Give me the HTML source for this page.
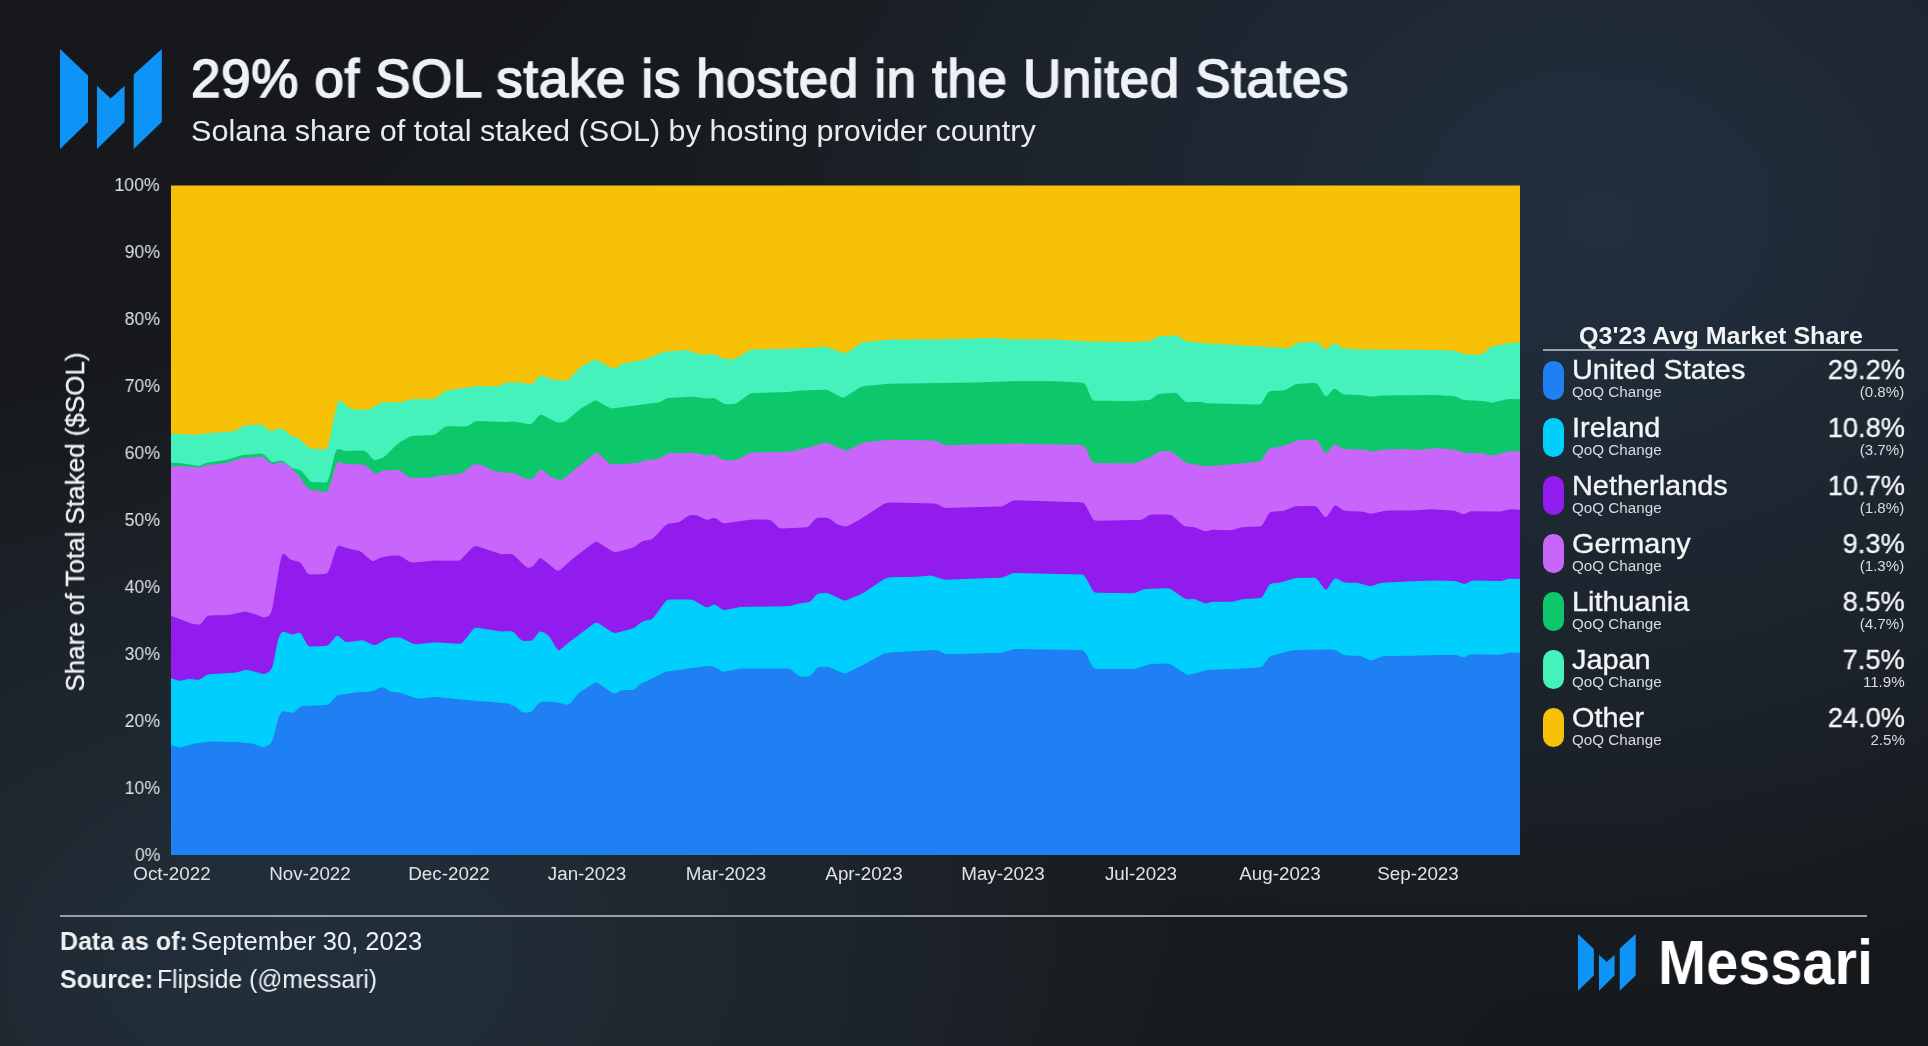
<!DOCTYPE html>
<html><head><meta charset="utf-8"><title>SOL stake by country</title>
<style>
html,body{margin:0;padding:0;}
body{width:1928px;height:1046px;overflow:hidden;position:relative;font-family:"Liberation Sans",sans-serif;
background:#1d232a;}
.bg{position:absolute;left:0;top:0;width:1928px;height:1046px;
background:radial-gradient(ellipse 950px 780px at 1600px 220px, rgba(33,47,62,1) 0%, rgba(33,47,62,0.55) 45%, rgba(33,47,62,0) 100%),
radial-gradient(ellipse 900px 600px at 300px 960px, rgba(34,48,60,1) 0%, rgba(34,48,60,0.55) 45%, rgba(34,48,60,0) 100%),
linear-gradient(136deg,#15171a 0%,#1a1d21 50%,#15181b 100%);}
.t{position:absolute;white-space:nowrap;line-height:1;will-change:transform;}
</style></head><body>
<div class="bg"></div>
<svg style="position:absolute;left:0;top:0" width="1928" height="1046" viewBox="0 0 1928 1046">
<rect x="171.0" y="185.5" width="1349.0" height="669.5" fill="#F6C107"/>
<path fill="#45F2BC" d="M171.0 855.0 L171.0 433.8 L195.0 434.7 L198.0 434.6 L205.0 433.4 L233.0 431.2 L235.0 430.9 L237.0 430.1 L242.0 426.6 L244.0 425.6 L258.0 424.5 L261.0 424.5 L263.0 425.2 L269.0 430.0 L271.0 430.9 L273.0 430.7 L279.0 428.4 L281.0 428.1 L282.0 428.4 L284.0 429.8 L289.0 434.3 L291.0 435.8 L298.0 438.2 L300.0 439.4 L307.0 446.1 L309.0 447.7 L311.0 448.5 L324.0 449.4 L326.0 449.2 L327.0 448.3 L328.0 446.2 L329.0 442.6 L330.0 437.8 L332.0 427.1 L334.0 417.3 L336.0 408.3 L337.0 404.6 L338.0 402.0 L339.0 400.8 L340.0 400.6 L342.0 401.8 L349.0 407.2 L351.0 408.5 L353.0 409.2 L365.0 409.8 L367.0 409.7 L369.0 409.2 L381.0 402.9 L383.0 402.1 L386.0 401.9 L398.0 402.4 L401.0 402.2 L411.0 399.6 L414.0 399.1 L432.0 399.1 L434.0 398.8 L436.0 397.9 L444.0 392.0 L446.0 390.8 L449.0 390.1 L468.0 387.5 L475.0 386.2 L479.0 386.0 L494.0 386.5 L497.0 386.3 L501.0 384.9 L505.0 383.2 L507.0 382.6 L519.0 382.6 L522.0 382.8 L529.0 384.5 L531.0 384.5 L532.0 384.1 L534.0 382.2 L538.0 377.4 L539.0 376.5 L540.0 375.8 L541.0 375.6 L543.0 376.0 L551.0 379.1 L554.0 379.8 L565.0 380.6 L567.0 380.4 L569.0 379.3 L578.0 369.7 L580.0 367.8 L583.0 365.7 L592.0 360.8 L594.0 359.9 L596.0 359.7 L598.0 360.4 L610.0 367.3 L612.0 368.2 L614.0 368.4 L616.0 367.6 L621.0 364.4 L623.0 363.6 L643.0 359.8 L647.0 358.6 L663.0 352.3 L666.0 351.4 L685.0 350.3 L688.0 350.4 L699.0 354.0 L702.0 354.6 L712.0 354.3 L714.0 354.3 L716.0 354.9 L723.0 358.2 L725.0 359.0 L728.0 359.2 L734.0 358.9 L736.0 358.4 L739.0 356.9 L748.0 351.1 L750.0 350.1 L752.0 349.5 L791.0 348.7 L824.0 346.9 L827.0 347.0 L843.0 352.7 L845.0 353.1 L847.0 352.7 L859.0 344.3 L861.0 343.1 L863.0 342.3 L888.0 339.8 L947.0 339.3 L993.0 338.0 L997.0 338.1 L1007.0 339.2 L1054.0 339.6 L1090.0 341.4 L1133.0 341.9 L1147.0 341.3 L1150.0 340.9 L1152.0 340.2 L1157.0 337.0 L1159.0 336.3 L1174.0 335.5 L1177.0 335.6 L1179.0 336.4 L1184.0 340.3 L1186.0 341.3 L1204.0 343.3 L1285.0 347.9 L1288.0 348.0 L1290.0 347.6 L1292.0 346.5 L1296.0 343.5 L1298.0 342.7 L1313.0 342.0 L1316.0 342.2 L1318.0 343.1 L1323.0 347.8 L1325.0 349.3 L1326.0 349.5 L1327.0 349.1 L1329.0 347.5 L1332.0 344.5 L1333.0 343.7 L1334.0 343.2 L1335.0 343.2 L1337.0 344.3 L1340.0 346.7 L1342.0 347.9 L1345.0 348.4 L1366.0 349.6 L1423.0 349.8 L1452.0 350.6 L1455.0 350.8 L1458.0 351.8 L1462.0 353.6 L1464.0 354.2 L1478.0 354.7 L1481.0 354.6 L1483.0 353.8 L1486.0 351.2 L1489.0 348.3 L1491.0 347.0 L1494.0 346.1 L1510.0 343.1 L1514.0 342.7 L1520.0 342.7 L1520.0 855.0 Z"/><path fill="#0CC86B" d="M171.0 855.0 L171.0 462.8 L182.0 463.2 L196.0 465.6 L198.0 465.7 L200.0 465.4 L205.0 463.3 L208.0 462.5 L225.0 460.0 L230.0 458.8 L241.0 455.5 L244.0 454.8 L260.0 453.6 L262.0 453.7 L264.0 454.5 L266.0 456.3 L270.0 460.5 L272.0 461.9 L274.0 462.1 L280.0 460.4 L282.0 460.4 L284.0 461.5 L290.0 466.6 L292.0 467.9 L294.0 468.6 L298.0 469.3 L300.0 469.9 L302.0 471.5 L308.0 478.8 L310.0 480.9 L312.0 481.9 L323.0 482.5 L325.0 482.5 L326.0 482.3 L327.0 481.7 L328.0 480.2 L329.0 477.6 L330.0 474.1 L334.0 457.6 L335.0 453.9 L336.0 451.2 L337.0 449.6 L338.0 449.0 L340.0 449.3 L344.0 450.7 L348.0 450.9 L362.0 450.4 L364.0 450.6 L366.0 451.5 L368.0 453.5 L372.0 458.2 L373.0 459.2 L374.0 459.9 L375.0 460.1 L377.0 459.8 L382.0 457.9 L384.0 456.9 L387.0 454.3 L394.0 447.3 L398.0 443.8 L401.0 441.6 L409.0 437.0 L411.0 436.2 L414.0 435.7 L431.0 435.2 L434.0 434.8 L436.0 433.9 L444.0 427.6 L446.0 426.6 L448.0 426.2 L465.0 426.4 L467.0 426.3 L469.0 425.5 L473.0 422.6 L475.0 421.5 L477.0 421.1 L506.0 421.9 L513.0 421.5 L517.0 421.9 L528.0 424.0 L530.0 424.2 L531.0 424.0 L532.0 423.5 L534.0 421.5 L538.0 416.4 L539.0 415.4 L540.0 414.8 L541.0 414.6 L543.0 415.2 L554.0 421.1 L556.0 422.0 L558.0 422.4 L563.0 422.1 L565.0 421.5 L567.0 420.2 L578.0 410.8 L581.0 408.5 L592.0 401.9 L594.0 400.9 L596.0 400.6 L598.0 401.3 L608.0 407.1 L610.0 408.1 L612.0 408.5 L654.0 403.1 L658.0 402.5 L660.0 401.9 L666.0 398.7 L668.0 397.9 L690.0 396.8 L694.0 396.7 L705.0 398.5 L708.0 398.6 L713.0 398.0 L715.0 398.3 L718.0 400.0 L722.0 402.8 L724.0 403.8 L726.0 404.2 L733.0 404.0 L735.0 403.8 L737.0 403.0 L748.0 394.9 L750.0 393.7 L752.0 393.0 L789.0 391.9 L792.0 391.6 L796.0 390.7 L823.0 389.7 L826.0 389.8 L828.0 390.3 L840.0 396.6 L842.0 397.4 L844.0 397.4 L847.0 395.8 L859.0 388.0 L861.0 386.9 L863.0 386.2 L888.0 383.7 L975.0 382.4 L1021.0 381.0 L1057.0 381.2 L1081.0 382.5 L1083.0 382.7 L1084.0 383.2 L1085.0 384.2 L1086.0 385.7 L1087.0 387.8 L1090.0 395.2 L1091.0 397.4 L1092.0 399.1 L1093.0 400.2 L1094.0 400.7 L1131.0 401.0 L1146.0 400.2 L1149.0 399.9 L1151.0 399.3 L1154.0 397.2 L1157.0 394.8 L1159.0 393.9 L1173.0 392.7 L1175.0 392.7 L1177.0 393.5 L1179.0 395.3 L1183.0 399.8 L1185.0 401.6 L1187.0 402.3 L1198.0 401.8 L1201.0 402.1 L1206.0 403.3 L1256.0 404.5 L1259.0 404.4 L1260.0 404.2 L1261.0 403.6 L1262.0 402.5 L1264.0 399.3 L1266.0 395.6 L1267.0 394.0 L1268.0 392.6 L1269.0 391.7 L1271.0 391.0 L1283.0 390.4 L1285.0 390.1 L1287.0 389.3 L1294.0 384.9 L1296.0 384.1 L1312.0 383.0 L1315.0 382.9 L1316.0 383.1 L1317.0 383.7 L1318.0 384.7 L1320.0 387.8 L1323.0 393.0 L1324.0 394.6 L1325.0 395.7 L1326.0 396.2 L1327.0 396.0 L1328.0 395.2 L1332.0 390.5 L1333.0 389.5 L1334.0 388.9 L1335.0 388.7 L1336.0 389.0 L1341.0 392.9 L1343.0 394.1 L1345.0 394.6 L1362.0 395.2 L1365.0 395.6 L1369.0 396.5 L1372.0 396.6 L1383.0 395.4 L1434.0 394.9 L1452.0 396.0 L1455.0 396.4 L1458.0 397.5 L1462.0 399.4 L1464.0 400.1 L1482.0 400.9 L1486.0 401.5 L1490.0 402.5 L1492.0 402.7 L1506.0 399.4 L1509.0 399.0 L1520.0 399.3 L1520.0 855.0 Z"/><path fill="#C866FB" d="M171.0 855.0 L171.0 465.9 L188.0 466.5 L197.0 467.5 L199.0 467.4 L206.0 465.5 L225.0 463.0 L229.0 462.2 L241.0 458.6 L244.0 457.9 L260.0 456.8 L262.0 456.9 L264.0 457.6 L267.0 460.0 L270.0 462.7 L272.0 463.9 L274.0 464.0 L280.0 462.2 L282.0 462.1 L284.0 463.0 L290.0 467.1 L292.0 468.7 L297.0 474.1 L300.0 477.6 L303.0 481.8 L306.0 486.1 L308.0 488.5 L310.0 489.6 L324.0 492.0 L326.0 492.1 L327.0 491.7 L328.0 490.5 L329.0 488.3 L330.0 485.4 L334.0 471.2 L335.0 467.9 L336.0 465.1 L337.0 463.2 L338.0 462.2 L339.0 462.1 L344.0 463.7 L349.0 464.2 L362.0 464.6 L364.0 464.8 L366.0 465.7 L369.0 468.3 L373.0 472.1 L375.0 473.5 L376.0 473.6 L378.0 473.1 L382.0 471.0 L384.0 470.4 L397.0 469.9 L399.0 470.0 L401.0 470.9 L408.0 476.5 L410.0 477.6 L412.0 478.0 L430.0 477.4 L434.0 476.9 L440.0 475.5 L458.0 474.2 L460.0 473.9 L462.0 473.1 L472.0 465.8 L474.0 464.5 L476.0 464.1 L481.0 465.1 L484.0 466.1 L494.0 471.0 L497.0 471.9 L513.0 473.2 L515.0 473.6 L519.0 475.5 L523.0 477.7 L525.0 478.6 L529.0 479.1 L531.0 479.2 L532.0 479.0 L533.0 478.5 L534.0 477.6 L536.0 474.8 L538.0 471.8 L539.0 470.6 L540.0 469.9 L541.0 469.8 L543.0 470.8 L550.0 476.1 L552.0 477.5 L554.0 478.3 L559.0 479.5 L561.0 479.7 L563.0 479.2 L566.0 476.9 L577.0 467.5 L593.0 454.9 L595.0 453.4 L596.0 453.0 L597.0 452.9 L598.0 453.2 L600.0 454.7 L608.0 462.2 L610.0 463.8 L612.0 464.6 L623.0 464.1 L636.0 463.1 L639.0 462.6 L645.0 460.6 L657.0 458.9 L659.0 458.4 L661.0 457.5 L666.0 454.4 L668.0 453.5 L671.0 453.1 L693.0 453.1 L696.0 453.3 L705.0 455.3 L708.0 455.5 L713.0 454.9 L715.0 455.1 L718.0 456.7 L722.0 459.2 L724.0 460.1 L727.0 460.3 L735.0 459.9 L737.0 459.6 L740.0 458.3 L748.0 454.0 L750.0 453.1 L752.0 452.6 L788.0 451.8 L791.0 451.6 L811.0 446.7 L824.0 443.1 L826.0 442.7 L828.0 442.9 L843.0 449.8 L845.0 450.4 L847.0 450.3 L862.0 443.4 L865.0 442.3 L887.0 440.0 L892.0 439.7 L932.0 440.4 L935.0 440.6 L937.0 441.3 L943.0 444.5 L945.0 445.2 L1017.0 443.4 L1080.0 445.1 L1083.0 445.3 L1084.0 445.7 L1085.0 446.7 L1086.0 448.2 L1087.0 450.3 L1090.0 457.6 L1091.0 459.8 L1092.0 461.5 L1093.0 462.6 L1094.0 463.1 L1130.0 463.4 L1134.0 463.3 L1137.0 462.6 L1149.0 457.7 L1152.0 456.1 L1157.0 452.9 L1159.0 451.8 L1161.0 451.2 L1168.0 451.0 L1170.0 451.2 L1172.0 452.0 L1183.0 460.8 L1185.0 462.2 L1187.0 463.0 L1203.0 465.9 L1206.0 466.2 L1234.0 464.2 L1257.0 461.8 L1259.0 461.4 L1260.0 461.1 L1261.0 460.4 L1262.0 459.4 L1264.0 456.3 L1267.0 451.3 L1268.0 450.1 L1269.0 449.1 L1271.0 448.2 L1281.0 446.5 L1285.0 445.3 L1298.0 440.5 L1301.0 439.8 L1313.0 439.7 L1315.0 439.8 L1316.0 440.1 L1317.0 440.7 L1318.0 441.7 L1320.0 444.7 L1323.0 449.8 L1324.0 451.3 L1325.0 452.4 L1326.0 452.9 L1327.0 452.6 L1328.0 451.7 L1332.0 446.6 L1333.0 445.5 L1334.0 444.8 L1335.0 444.5 L1336.0 444.7 L1342.0 448.3 L1344.0 449.0 L1365.0 449.7 L1368.0 450.2 L1372.0 451.4 L1374.0 451.5 L1382.0 449.8 L1386.0 449.4 L1408.0 449.1 L1413.0 449.5 L1418.0 450.0 L1435.0 448.3 L1439.0 448.3 L1453.0 449.6 L1456.0 450.1 L1462.0 452.3 L1465.0 453.0 L1480.0 453.1 L1483.0 453.4 L1490.0 455.2 L1492.0 455.4 L1497.0 454.4 L1507.0 451.7 L1510.0 451.2 L1520.0 451.5 L1520.0 855.0 Z"/><path fill="#921BEE" d="M171.0 855.0 L171.0 615.8 L190.0 623.1 L193.0 624.0 L197.0 624.6 L199.0 624.5 L200.0 624.2 L201.0 623.5 L203.0 621.2 L205.0 618.5 L207.0 616.4 L209.0 615.6 L227.0 615.1 L231.0 614.6 L242.0 612.0 L245.0 611.6 L251.0 612.9 L256.0 614.6 L262.0 617.0 L264.0 617.3 L266.0 617.0 L268.0 616.2 L269.0 615.7 L270.0 614.6 L271.0 612.6 L272.0 609.2 L273.0 604.4 L274.0 598.6 L277.0 579.8 L278.0 573.9 L279.0 568.3 L280.0 563.1 L281.0 558.8 L282.0 555.6 L283.0 554.0 L284.0 553.8 L285.0 554.5 L288.0 557.6 L290.0 559.3 L292.0 560.1 L298.0 561.5 L300.0 562.4 L301.0 563.4 L303.0 566.3 L306.0 571.2 L307.0 572.7 L308.0 573.7 L309.0 574.3 L311.0 574.6 L324.0 573.9 L326.0 573.7 L327.0 573.2 L328.0 572.2 L329.0 570.4 L330.0 567.8 L332.0 561.5 L334.0 554.9 L335.0 551.7 L336.0 549.0 L337.0 547.0 L338.0 545.9 L339.0 545.6 L350.0 548.9 L358.0 550.6 L360.0 551.2 L362.0 552.4 L370.0 559.5 L372.0 560.8 L373.0 561.0 L375.0 560.4 L379.0 558.3 L382.0 557.3 L392.0 555.6 L397.0 555.4 L399.0 555.6 L401.0 556.2 L409.0 561.4 L411.0 562.3 L413.0 562.5 L435.0 560.6 L457.0 560.8 L459.0 560.6 L461.0 559.6 L472.0 548.1 L474.0 546.5 L475.0 546.2 L477.0 546.3 L499.0 553.6 L502.0 554.3 L510.0 553.9 L512.0 554.1 L514.0 555.2 L524.0 565.0 L526.0 566.8 L528.0 567.7 L530.0 567.6 L532.0 566.8 L534.0 565.0 L538.0 559.8 L539.0 558.8 L540.0 558.3 L541.0 558.3 L543.0 559.5 L555.0 569.2 L557.0 570.5 L558.0 570.7 L559.0 570.5 L561.0 569.2 L573.0 558.6 L592.0 544.1 L594.0 542.6 L596.0 541.8 L598.0 542.2 L611.0 550.5 L613.0 551.6 L615.0 552.2 L618.0 551.7 L632.0 547.9 L634.0 547.1 L637.0 545.1 L640.0 542.7 L642.0 541.5 L645.0 540.5 L650.0 539.7 L652.0 539.0 L654.0 537.5 L664.0 526.8 L666.0 524.9 L668.0 523.8 L677.0 522.5 L679.0 522.1 L681.0 521.0 L687.0 516.4 L689.0 515.4 L692.0 515.1 L696.0 515.3 L698.0 515.7 L705.0 519.3 L707.0 519.8 L709.0 519.5 L713.0 518.1 L715.0 517.9 L717.0 518.9 L721.0 522.0 L723.0 523.1 L725.0 523.3 L748.0 519.9 L753.0 519.5 L767.0 519.5 L769.0 519.7 L771.0 520.5 L774.0 523.1 L777.0 526.1 L779.0 527.7 L781.0 528.4 L804.0 527.5 L807.0 527.2 L809.0 526.1 L811.0 524.0 L814.0 520.2 L816.0 518.4 L818.0 517.8 L826.0 517.7 L828.0 518.0 L830.0 519.0 L836.0 523.6 L838.0 524.8 L843.0 526.1 L846.0 526.4 L848.0 525.9 L861.0 518.8 L882.0 505.1 L885.0 503.4 L888.0 502.7 L892.0 502.5 L934.0 503.5 L937.0 503.9 L940.0 505.4 L943.0 507.2 L945.0 507.9 L997.0 506.6 L1001.0 506.4 L1003.0 505.9 L1012.0 501.0 L1014.0 500.3 L1079.0 502.2 L1082.0 502.4 L1083.0 502.7 L1084.0 503.3 L1085.0 504.4 L1086.0 505.9 L1091.0 515.7 L1092.0 517.5 L1093.0 519.0 L1094.0 520.0 L1095.0 520.5 L1098.0 520.8 L1135.0 520.0 L1140.0 520.0 L1142.0 519.6 L1144.0 518.6 L1148.0 515.8 L1150.0 514.8 L1153.0 514.5 L1168.0 514.5 L1170.0 514.7 L1172.0 515.5 L1175.0 517.9 L1182.0 524.3 L1184.0 525.7 L1186.0 526.4 L1193.0 527.1 L1196.0 527.7 L1204.0 530.9 L1206.0 531.3 L1208.0 530.9 L1211.0 529.9 L1214.0 529.7 L1229.0 530.2 L1232.0 530.0 L1241.0 527.6 L1245.0 527.1 L1259.0 526.4 L1261.0 525.9 L1262.0 525.2 L1263.0 524.1 L1265.0 520.6 L1267.0 516.7 L1268.0 515.0 L1269.0 513.5 L1270.0 512.5 L1272.0 511.7 L1282.0 511.0 L1285.0 510.4 L1293.0 506.9 L1295.0 506.3 L1312.0 506.0 L1315.0 506.2 L1316.0 506.5 L1317.0 507.2 L1319.0 509.4 L1323.0 515.0 L1324.0 516.2 L1325.0 517.0 L1326.0 517.1 L1327.0 516.5 L1328.0 515.3 L1332.0 508.9 L1333.0 507.4 L1334.0 506.3 L1335.0 505.6 L1336.0 505.6 L1338.0 506.6 L1342.0 509.4 L1344.0 510.5 L1347.0 511.0 L1360.0 511.4 L1363.0 511.7 L1369.0 513.3 L1371.0 513.7 L1374.0 513.3 L1385.0 510.8 L1389.0 510.4 L1411.0 510.4 L1432.0 509.3 L1452.0 510.6 L1455.0 511.1 L1459.0 512.6 L1462.0 513.9 L1464.0 514.1 L1466.0 513.4 L1469.0 511.8 L1471.0 511.2 L1498.0 511.6 L1501.0 511.5 L1509.0 509.6 L1512.0 509.3 L1520.0 509.7 L1520.0 855.0 Z"/><path fill="#00CFFE" d="M171.0 855.0 L171.0 678.2 L178.0 680.4 L180.0 680.8 L183.0 680.3 L187.0 679.2 L190.0 679.0 L197.0 679.8 L199.0 679.7 L201.0 678.8 L205.0 675.9 L207.0 674.8 L210.0 674.2 L234.0 672.7 L237.0 672.2 L245.0 670.0 L247.0 669.8 L261.0 673.4 L264.0 673.9 L266.0 673.5 L269.0 671.7 L270.0 670.8 L271.0 669.6 L272.0 667.5 L273.0 664.3 L274.0 659.9 L276.0 649.5 L277.0 644.5 L278.0 640.4 L279.0 637.2 L280.0 634.9 L281.0 633.3 L282.0 632.2 L283.0 631.7 L285.0 632.0 L290.0 634.1 L292.0 634.5 L294.0 634.2 L298.0 632.8 L299.0 632.7 L300.0 633.0 L301.0 633.8 L302.0 635.2 L306.0 642.7 L307.0 644.3 L308.0 645.5 L309.0 646.3 L311.0 646.6 L325.0 646.0 L327.0 645.6 L329.0 644.5 L331.0 642.3 L335.0 637.2 L336.0 636.3 L337.0 635.8 L338.0 635.9 L340.0 637.3 L344.0 640.8 L346.0 641.9 L348.0 642.1 L360.0 640.4 L362.0 640.3 L364.0 640.7 L372.0 644.4 L374.0 645.1 L376.0 644.9 L387.0 638.8 L389.0 638.0 L396.0 637.4 L399.0 637.4 L401.0 637.8 L412.0 643.2 L414.0 644.0 L416.0 644.3 L434.0 642.5 L438.0 642.4 L458.0 643.8 L460.0 643.8 L462.0 643.1 L464.0 641.1 L472.0 630.6 L474.0 628.5 L475.0 627.9 L477.0 627.7 L499.0 631.2 L502.0 631.6 L510.0 631.1 L512.0 631.3 L514.0 632.6 L520.0 639.1 L522.0 640.6 L524.0 641.1 L530.0 640.8 L532.0 640.3 L533.0 639.6 L535.0 637.3 L538.0 633.2 L539.0 632.2 L540.0 631.5 L541.0 631.4 L543.0 632.1 L547.0 634.4 L549.0 636.2 L551.0 639.1 L555.0 646.1 L557.0 649.1 L558.0 650.0 L559.0 650.2 L560.0 649.8 L571.0 640.7 L592.0 624.9 L594.0 623.5 L596.0 622.7 L598.0 623.1 L611.0 631.4 L613.0 632.5 L615.0 633.1 L618.0 632.6 L631.0 629.0 L634.0 627.9 L636.0 626.6 L640.0 623.3 L642.0 621.9 L644.0 620.9 L647.0 620.2 L650.0 619.7 L652.0 618.9 L654.0 617.0 L664.0 603.4 L666.0 601.0 L667.0 600.2 L669.0 599.6 L689.0 599.5 L692.0 599.8 L694.0 600.5 L704.0 606.3 L706.0 607.2 L708.0 607.2 L713.0 605.1 L715.0 604.8 L717.0 605.7 L721.0 608.7 L723.0 609.7 L725.0 609.9 L740.0 607.0 L787.0 606.2 L790.0 606.0 L799.0 603.4 L808.0 602.3 L810.0 601.6 L812.0 599.9 L816.0 595.3 L818.0 593.7 L820.0 593.2 L826.0 593.1 L828.0 593.3 L831.0 594.4 L842.0 599.8 L844.0 600.6 L846.0 600.6 L860.0 594.5 L864.0 592.4 L882.0 580.5 L885.0 578.8 L888.0 577.8 L891.0 577.2 L917.0 576.8 L930.0 575.6 L932.0 575.7 L943.0 579.3 L946.0 579.8 L999.0 577.7 L1002.0 577.5 L1005.0 576.5 L1012.0 573.4 L1014.0 572.9 L1079.0 574.4 L1082.0 574.5 L1083.0 574.8 L1084.0 575.4 L1085.0 576.5 L1087.0 579.8 L1091.0 587.6 L1092.0 589.4 L1093.0 590.8 L1094.0 591.9 L1095.0 592.4 L1098.0 592.8 L1132.0 593.2 L1135.0 592.9 L1143.0 589.6 L1146.0 589.0 L1166.0 588.2 L1169.0 588.4 L1171.0 589.2 L1183.0 597.4 L1185.0 598.6 L1187.0 599.2 L1193.0 599.1 L1195.0 599.3 L1199.0 600.9 L1204.0 603.1 L1206.0 603.5 L1208.0 603.1 L1211.0 602.1 L1214.0 601.7 L1231.0 601.7 L1234.0 601.4 L1241.0 599.4 L1245.0 598.9 L1259.0 598.2 L1261.0 597.7 L1262.0 597.0 L1263.0 595.9 L1265.0 592.4 L1267.0 588.5 L1268.0 586.8 L1269.0 585.3 L1270.0 584.3 L1272.0 583.5 L1279.0 582.8 L1283.0 581.8 L1293.0 578.7 L1296.0 578.1 L1313.0 577.7 L1315.0 577.8 L1316.0 578.2 L1317.0 578.9 L1319.0 581.2 L1323.0 587.3 L1324.0 588.6 L1325.0 589.5 L1326.0 589.7 L1327.0 589.1 L1328.0 588.0 L1332.0 581.8 L1334.0 579.2 L1335.0 578.5 L1336.0 578.4 L1338.0 579.2 L1342.0 581.5 L1344.0 582.3 L1347.0 582.7 L1355.0 582.7 L1358.0 583.1 L1369.0 586.1 L1371.0 586.3 L1373.0 585.8 L1379.0 583.4 L1382.0 582.8 L1412.0 581.2 L1436.0 580.4 L1454.0 581.1 L1457.0 581.5 L1462.0 583.6 L1464.0 583.9 L1466.0 583.4 L1471.0 581.1 L1473.0 580.6 L1498.0 581.1 L1501.0 580.9 L1508.0 579.1 L1511.0 578.8 L1520.0 579.0 L1520.0 855.0 Z"/><path fill="#1E80F2" d="M171.0 855.0 L171.0 744.9 L178.0 747.1 L180.0 747.5 L183.0 746.9 L192.0 744.0 L205.0 741.9 L209.0 741.6 L236.0 741.9 L250.0 743.2 L253.0 743.7 L261.0 746.7 L263.0 747.3 L265.0 747.0 L268.0 745.3 L270.0 743.9 L271.0 742.8 L272.0 741.1 L273.0 738.5 L274.0 735.0 L276.0 726.7 L277.0 722.7 L278.0 719.3 L279.0 716.5 L280.0 714.4 L281.0 712.9 L282.0 711.8 L283.0 711.2 L285.0 711.2 L291.0 712.8 L293.0 712.7 L295.0 711.4 L299.0 707.7 L301.0 706.4 L303.0 705.9 L325.0 705.0 L327.0 704.8 L329.0 703.8 L331.0 701.9 L335.0 697.5 L337.0 695.8 L339.0 695.0 L357.0 692.2 L369.0 691.7 L372.0 691.2 L380.0 687.7 L382.0 687.3 L384.0 687.8 L389.0 690.8 L391.0 691.7 L399.0 692.6 L403.0 693.7 L416.0 698.2 L418.0 698.7 L421.0 698.6 L434.0 697.1 L437.0 697.0 L463.0 699.8 L506.0 703.3 L509.0 703.8 L513.0 705.5 L516.0 707.2 L520.0 710.7 L522.0 712.1 L524.0 712.5 L528.0 712.6 L530.0 712.2 L532.0 710.9 L538.0 704.1 L540.0 702.4 L542.0 701.8 L552.0 701.7 L555.0 701.9 L566.0 704.5 L568.0 704.7 L569.0 704.3 L570.0 703.6 L572.0 701.3 L576.0 696.2 L578.0 693.9 L581.0 691.6 L593.0 683.8 L595.0 682.8 L596.0 682.6 L598.0 683.1 L611.0 692.0 L613.0 693.2 L614.0 693.5 L616.0 693.2 L620.0 691.0 L622.0 690.2 L626.0 689.9 L632.0 689.9 L634.0 689.4 L636.0 688.1 L640.0 684.3 L642.0 682.9 L646.0 681.5 L664.0 672.6 L667.0 671.4 L700.0 666.9 L709.0 666.1 L711.0 666.0 L713.0 666.5 L721.0 670.8 L723.0 671.6 L725.0 671.6 L738.0 668.9 L742.0 668.5 L786.0 668.5 L789.0 668.7 L791.0 669.4 L797.0 674.5 L799.0 675.9 L801.0 676.6 L807.0 676.7 L809.0 676.4 L810.0 676.0 L812.0 674.2 L816.0 669.1 L817.0 668.1 L818.0 667.3 L820.0 666.8 L826.0 666.7 L829.0 667.1 L842.0 672.7 L844.0 673.3 L846.0 673.2 L861.0 665.9 L882.0 654.6 L885.0 653.3 L890.0 652.6 L920.0 650.8 L934.0 650.1 L937.0 650.2 L940.0 651.3 L945.0 653.7 L947.0 654.2 L999.0 652.7 L1002.0 652.5 L1012.0 649.5 L1015.0 649.1 L1080.0 650.1 L1082.0 650.3 L1083.0 650.5 L1084.0 651.1 L1085.0 652.2 L1086.0 653.8 L1091.0 663.7 L1092.0 665.6 L1093.0 667.1 L1094.0 668.1 L1095.0 668.7 L1098.0 669.0 L1132.0 669.0 L1135.0 668.8 L1148.0 664.7 L1151.0 664.1 L1166.0 663.6 L1169.0 663.8 L1171.0 664.6 L1185.0 673.5 L1187.0 674.5 L1189.0 674.8 L1206.0 670.4 L1210.0 669.8 L1233.0 669.0 L1258.0 667.4 L1260.0 667.2 L1262.0 666.3 L1263.0 665.4 L1265.0 662.8 L1268.0 658.5 L1270.0 656.5 L1272.0 655.6 L1292.0 650.6 L1295.0 650.0 L1331.0 649.5 L1334.0 649.7 L1336.0 650.4 L1342.0 654.0 L1344.0 654.9 L1347.0 655.4 L1358.0 655.7 L1361.0 656.2 L1369.0 659.7 L1371.0 660.2 L1373.0 660.0 L1381.0 656.7 L1384.0 655.9 L1412.0 655.7 L1437.0 654.9 L1454.0 654.9 L1457.0 655.2 L1462.0 656.9 L1464.0 657.0 L1466.0 656.4 L1469.0 654.9 L1471.0 654.2 L1498.0 654.8 L1501.0 654.7 L1509.0 652.8 L1512.0 652.5 L1520.0 653.1 L1520.0 855.0 Z"/>
</svg>
<svg style="position:absolute;left:60.0px;top:49.4px" width="102.0" height="100.0" viewBox="0 0 102 100"><polygon fill="#0E94F6" points="0,0 28,26.5 28,73 0,100"/><polygon fill="#0E94F6" points="37,36.8 50.7,49.6 64.6,36.8 64.6,73 37,100"/><polygon fill="#0E94F6" points="73.7,25.6 101.8,0 101.8,73 73.7,100"/></svg>
<div class="t" style="left:191.0px;top:50.6px;font-size:54.20px;font-weight:400;color:#EEF2F6;transform:scaleX(0.9790);transform-origin:0 0;-webkit-text-stroke:1.6px #EEF2F6;letter-spacing:0.6px;">29% of SOL stake is hosted in the United States</div>
<div class="t" style="left:191.0px;top:115.6px;font-size:29.70px;font-weight:400;color:#E8ECEF;transform:scaleX(1.0300);transform-origin:0 0;">Solana share of total staked (SOL) by hosting provider country</div>
<div class="t" style="right:1768.0px;top:844.5px;font-size:19.00px;font-weight:400;color:#DFE3E6;transform:scaleX(0.9300);transform-origin:100% 0;">0%</div>
<div class="t" style="right:1768.0px;top:777.5px;font-size:19.00px;font-weight:400;color:#DFE3E6;transform:scaleX(0.9300);transform-origin:100% 0;">10%</div>
<div class="t" style="right:1768.0px;top:710.6px;font-size:19.00px;font-weight:400;color:#DFE3E6;transform:scaleX(0.9300);transform-origin:100% 0;">20%</div>
<div class="t" style="right:1768.0px;top:643.6px;font-size:19.00px;font-weight:400;color:#DFE3E6;transform:scaleX(0.9300);transform-origin:100% 0;">30%</div>
<div class="t" style="right:1768.0px;top:576.7px;font-size:19.00px;font-weight:400;color:#DFE3E6;transform:scaleX(0.9300);transform-origin:100% 0;">40%</div>
<div class="t" style="right:1768.0px;top:509.7px;font-size:19.00px;font-weight:400;color:#DFE3E6;transform:scaleX(0.9300);transform-origin:100% 0;">50%</div>
<div class="t" style="right:1768.0px;top:442.8px;font-size:19.00px;font-weight:400;color:#DFE3E6;transform:scaleX(0.9300);transform-origin:100% 0;">60%</div>
<div class="t" style="right:1768.0px;top:375.8px;font-size:19.00px;font-weight:400;color:#DFE3E6;transform:scaleX(0.9300);transform-origin:100% 0;">70%</div>
<div class="t" style="right:1768.0px;top:308.9px;font-size:19.00px;font-weight:400;color:#DFE3E6;transform:scaleX(0.9300);transform-origin:100% 0;">80%</div>
<div class="t" style="right:1768.0px;top:241.9px;font-size:19.00px;font-weight:400;color:#DFE3E6;transform:scaleX(0.9300);transform-origin:100% 0;">90%</div>
<div class="t" style="right:1768.0px;top:174.9px;font-size:19.00px;font-weight:400;color:#DFE3E6;transform:scaleX(0.9300);transform-origin:100% 0;">100%</div>
<div class="t" style="left:171.7px;top:865.0px;font-size:18.80px;font-weight:400;color:#DFE3E6;transform:translateX(-50%) scaleX(1.0000);">Oct-2022</div>
<div class="t" style="left:310.1px;top:865.0px;font-size:18.80px;font-weight:400;color:#DFE3E6;transform:translateX(-50%) scaleX(1.0000);">Nov-2022</div>
<div class="t" style="left:448.6px;top:865.0px;font-size:18.80px;font-weight:400;color:#DFE3E6;transform:translateX(-50%) scaleX(1.0000);">Dec-2022</div>
<div class="t" style="left:587.1px;top:865.0px;font-size:18.80px;font-weight:400;color:#DFE3E6;transform:translateX(-50%) scaleX(1.0000);">Jan-2023</div>
<div class="t" style="left:725.6px;top:865.0px;font-size:18.80px;font-weight:400;color:#DFE3E6;transform:translateX(-50%) scaleX(1.0000);">Mar-2023</div>
<div class="t" style="left:864.1px;top:865.0px;font-size:18.80px;font-weight:400;color:#DFE3E6;transform:translateX(-50%) scaleX(1.0000);">Apr-2023</div>
<div class="t" style="left:1002.6px;top:865.0px;font-size:18.80px;font-weight:400;color:#DFE3E6;transform:translateX(-50%) scaleX(1.0000);">May-2023</div>
<div class="t" style="left:1141.2px;top:865.0px;font-size:18.80px;font-weight:400;color:#DFE3E6;transform:translateX(-50%) scaleX(1.0000);">Jul-2023</div>
<div class="t" style="left:1279.7px;top:865.0px;font-size:18.80px;font-weight:400;color:#DFE3E6;transform:translateX(-50%) scaleX(1.0000);">Aug-2023</div>
<div class="t" style="left:1418.2px;top:865.0px;font-size:18.80px;font-weight:400;color:#DFE3E6;transform:translateX(-50%) scaleX(1.0000);">Sep-2023</div>
<div class="t" style="left:75px;top:521.5px;font-size:26px;color:#EEF1F4;-webkit-text-stroke:0.3px #EEF1F4;transform:translate(-50%,-50%) rotate(-90deg);white-space:nowrap">Share of Total Staked ($SOL)</div>
<div class="t" style="left:1579.0px;top:324.1px;font-size:23.80px;font-weight:700;color:#F1F3F5;transform:scaleX(1.0530);transform-origin:0 0;">Q3'23 Avg Market Share</div>
<div style="position:absolute;left:1543px;top:349px;width:355px;height:1.6px;background:#9BA3AA"></div>
<div style="position:absolute;left:1543px;top:360.5px;width:20.5px;height:39px;border-radius:10.25px;background:#1E80F2"></div>
<div class="t" style="left:1572.0px;top:356.3px;font-size:27.50px;font-weight:400;color:#F2F4F6;transform:scaleX(1.0500);transform-origin:0 0;-webkit-text-stroke:0.35px #F2F4F6;">United States</div>
<div class="t" style="left:1572.0px;top:385.4px;font-size:14.00px;font-weight:400;color:#D8DCDF;transform:scaleX(1.0870);transform-origin:0 0;">QoQ Change</div>
<div class="t" style="right:23.5px;top:356.3px;font-size:27.50px;font-weight:400;color:#F2F4F6;transform:scaleX(0.9900);transform-origin:100% 0;-webkit-text-stroke:0.35px #F2F4F6;">29.2%</div>
<div class="t" style="right:23.5px;top:385.4px;font-size:14.00px;font-weight:400;color:#D8DCDF;transform:scaleX(1.0800);transform-origin:100% 0;">(0.8%)</div>
<div style="position:absolute;left:1543px;top:418.4px;width:20.5px;height:39px;border-radius:10.25px;background:#00CFFE"></div>
<div class="t" style="left:1572.0px;top:414.2px;font-size:27.50px;font-weight:400;color:#F2F4F6;transform:scaleX(1.0500);transform-origin:0 0;-webkit-text-stroke:0.35px #F2F4F6;">Ireland</div>
<div class="t" style="left:1572.0px;top:443.3px;font-size:14.00px;font-weight:400;color:#D8DCDF;transform:scaleX(1.0870);transform-origin:0 0;">QoQ Change</div>
<div class="t" style="right:23.5px;top:414.2px;font-size:27.50px;font-weight:400;color:#F2F4F6;transform:scaleX(0.9900);transform-origin:100% 0;-webkit-text-stroke:0.35px #F2F4F6;">10.8%</div>
<div class="t" style="right:23.5px;top:443.3px;font-size:14.00px;font-weight:400;color:#D8DCDF;transform:scaleX(1.0800);transform-origin:100% 0;">(3.7%)</div>
<div style="position:absolute;left:1543px;top:476.3px;width:20.5px;height:39px;border-radius:10.25px;background:#921BEE"></div>
<div class="t" style="left:1572.0px;top:472.1px;font-size:27.50px;font-weight:400;color:#F2F4F6;transform:scaleX(1.0500);transform-origin:0 0;-webkit-text-stroke:0.35px #F2F4F6;">Netherlands</div>
<div class="t" style="left:1572.0px;top:501.2px;font-size:14.00px;font-weight:400;color:#D8DCDF;transform:scaleX(1.0870);transform-origin:0 0;">QoQ Change</div>
<div class="t" style="right:23.5px;top:472.1px;font-size:27.50px;font-weight:400;color:#F2F4F6;transform:scaleX(0.9900);transform-origin:100% 0;-webkit-text-stroke:0.35px #F2F4F6;">10.7%</div>
<div class="t" style="right:23.5px;top:501.2px;font-size:14.00px;font-weight:400;color:#D8DCDF;transform:scaleX(1.0800);transform-origin:100% 0;">(1.8%)</div>
<div style="position:absolute;left:1543px;top:534.2px;width:20.5px;height:39px;border-radius:10.25px;background:#C866FB"></div>
<div class="t" style="left:1572.0px;top:530.0px;font-size:27.50px;font-weight:400;color:#F2F4F6;transform:scaleX(1.0500);transform-origin:0 0;-webkit-text-stroke:0.35px #F2F4F6;">Germany</div>
<div class="t" style="left:1572.0px;top:559.1px;font-size:14.00px;font-weight:400;color:#D8DCDF;transform:scaleX(1.0870);transform-origin:0 0;">QoQ Change</div>
<div class="t" style="right:23.5px;top:530.0px;font-size:27.50px;font-weight:400;color:#F2F4F6;transform:scaleX(0.9900);transform-origin:100% 0;-webkit-text-stroke:0.35px #F2F4F6;">9.3%</div>
<div class="t" style="right:23.5px;top:559.1px;font-size:14.00px;font-weight:400;color:#D8DCDF;transform:scaleX(1.0800);transform-origin:100% 0;">(1.3%)</div>
<div style="position:absolute;left:1543px;top:592.1px;width:20.5px;height:39px;border-radius:10.25px;background:#0CC86B"></div>
<div class="t" style="left:1572.0px;top:587.9px;font-size:27.50px;font-weight:400;color:#F2F4F6;transform:scaleX(1.0500);transform-origin:0 0;-webkit-text-stroke:0.35px #F2F4F6;">Lithuania</div>
<div class="t" style="left:1572.0px;top:617.0px;font-size:14.00px;font-weight:400;color:#D8DCDF;transform:scaleX(1.0870);transform-origin:0 0;">QoQ Change</div>
<div class="t" style="right:23.5px;top:587.9px;font-size:27.50px;font-weight:400;color:#F2F4F6;transform:scaleX(0.9900);transform-origin:100% 0;-webkit-text-stroke:0.35px #F2F4F6;">8.5%</div>
<div class="t" style="right:23.5px;top:617.0px;font-size:14.00px;font-weight:400;color:#D8DCDF;transform:scaleX(1.0800);transform-origin:100% 0;">(4.7%)</div>
<div style="position:absolute;left:1543px;top:650.0px;width:20.5px;height:39px;border-radius:10.25px;background:#45F2BC"></div>
<div class="t" style="left:1572.0px;top:645.8px;font-size:27.50px;font-weight:400;color:#F2F4F6;transform:scaleX(1.0500);transform-origin:0 0;-webkit-text-stroke:0.35px #F2F4F6;">Japan</div>
<div class="t" style="left:1572.0px;top:674.9px;font-size:14.00px;font-weight:400;color:#D8DCDF;transform:scaleX(1.0870);transform-origin:0 0;">QoQ Change</div>
<div class="t" style="right:23.5px;top:645.8px;font-size:27.50px;font-weight:400;color:#F2F4F6;transform:scaleX(0.9900);transform-origin:100% 0;-webkit-text-stroke:0.35px #F2F4F6;">7.5%</div>
<div class="t" style="right:23.5px;top:674.9px;font-size:14.00px;font-weight:400;color:#D8DCDF;transform:scaleX(1.0800);transform-origin:100% 0;">11.9%</div>
<div style="position:absolute;left:1543px;top:707.9px;width:20.5px;height:39px;border-radius:10.25px;background:#F6C107"></div>
<div class="t" style="left:1572.0px;top:703.7px;font-size:27.50px;font-weight:400;color:#F2F4F6;transform:scaleX(1.0500);transform-origin:0 0;-webkit-text-stroke:0.35px #F2F4F6;">Other</div>
<div class="t" style="left:1572.0px;top:732.8px;font-size:14.00px;font-weight:400;color:#D8DCDF;transform:scaleX(1.0870);transform-origin:0 0;">QoQ Change</div>
<div class="t" style="right:23.5px;top:703.7px;font-size:27.50px;font-weight:400;color:#F2F4F6;transform:scaleX(0.9900);transform-origin:100% 0;-webkit-text-stroke:0.35px #F2F4F6;">24.0%</div>
<div class="t" style="right:23.5px;top:732.8px;font-size:14.00px;font-weight:400;color:#D8DCDF;transform:scaleX(1.0800);transform-origin:100% 0;">2.5%</div>
<div style="position:absolute;left:60px;top:915.3px;width:1807px;height:2px;background:#9AA0A6"></div>
<div class="t" style="left:59.5px;top:929.2px;font-size:25.50px;font-weight:700;color:#EEF1F4;transform:scaleX(0.9800);transform-origin:0 0;">Data as of:</div>
<div class="t" style="left:190.5px;top:929.2px;font-size:25.50px;font-weight:400;color:#EEF1F4;transform:scaleX(1.0000);transform-origin:0 0;">September 30, 2023</div>
<div class="t" style="left:59.5px;top:967.2px;font-size:25.50px;font-weight:700;color:#EEF1F4;transform:scaleX(0.9800);transform-origin:0 0;">Source:</div>
<div class="t" style="left:156.5px;top:967.2px;font-size:25.50px;font-weight:400;color:#EEF1F4;transform:scaleX(0.9690);transform-origin:0 0;">Flipside (@messari)</div>
<svg style="position:absolute;left:1578.4px;top:934.3px" width="57.8" height="56.7" viewBox="0 0 102 100"><polygon fill="#0E94F6" points="0,0 28,26.5 28,73 0,100"/><polygon fill="#0E94F6" points="37,36.8 50.7,49.6 64.6,36.8 64.6,73 37,100"/><polygon fill="#0E94F6" points="73.7,25.6 101.8,0 101.8,73 73.7,100"/></svg>
<div class="t" style="left:1657.5px;top:930.7px;font-size:62.90px;font-weight:700;color:#FFFFFF;transform:scaleX(0.9180);transform-origin:0 0;">Messari</div>
</body></html>
